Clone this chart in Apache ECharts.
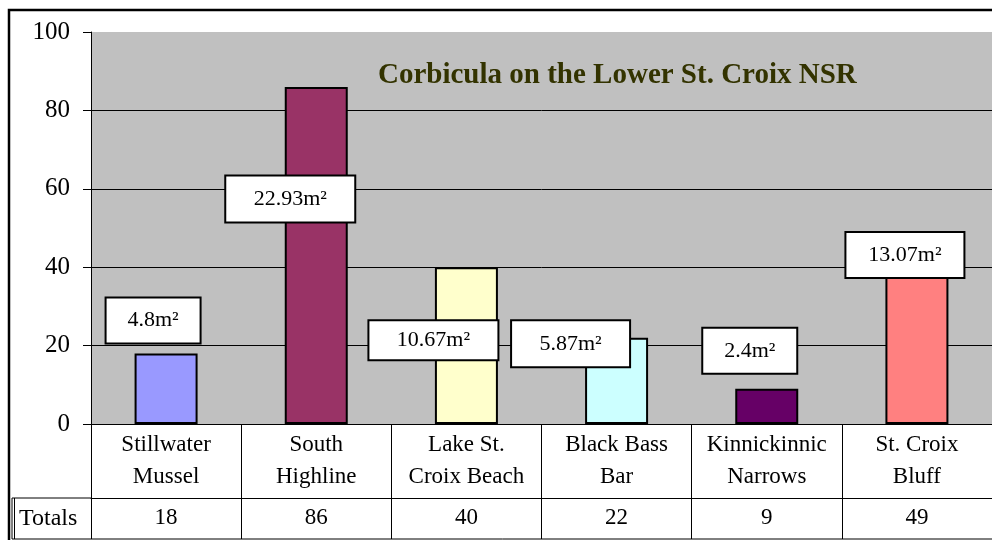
<!DOCTYPE html>
<html>
<head>
<meta charset="utf-8">
<script src="https://cdn.jsdelivr.net/npm/echarts@6/dist/echarts.min.js"></script>
<style>
  html, body { margin: 0; padding: 0; background: #fff; }
  #chart { width: 992px; height: 540px; }
</style>
</head>
<body>
<div id="chart"></div>
<script>
// Data
const sites = ['Stillwater\nMussel', 'South\nHighline', 'Lake St.\nCroix Beach', 'Black Bass\nBar', 'Kinnickinnic\nNarrows', 'St. Croix\nBluff']
const totals = [18, 86, 40, 22, 9, 49]
const areas = ['4.8', '22.93', '10.67', '5.87', '2.4', '13.07']
const barColors = ['#9999FF', '#993366', '#FFFFCC', '#CCFFFF', '#660066', '#FF8080']

// label boxes were dragged around in the original, offsets from bar top
const labelBoxes = [
  { dx: -13, dy: -33, w: 97, h: 48 },
  { dx: -26, dy: 112, w: 132, h: 49 },
  { dx: -33, dy: 73, w: 132, h: 42 },
  { dx: -46, dy: 6, w: 121, h: 49 },
  { dx: -17, dy: -38, w: 97, h: 48 },
  { dx: -12, dy: 23, w: 121, h: 48 },
]

const serif = 'Liberation Serif'
const chart = echarts.init(document.getElementById('chart'))

chart.setOption({
  animation: false,
  title: {
    text: 'Corbicula on the Lower St. Croix NSR',
    left: 378,
    top: 61,
    padding: 0,
    textStyle: { fontFamily: serif, fontWeight: 'bold', fontSize: 29, color: '#333300' },
  },
  grid: {
    show: true,
    backgroundColor: '#C0C0C0',
    borderWidth: 0,
    left: 91,
    top: 32,
    width: 906,
    height: 392,
  },
  xAxis: [{
    type: 'category',
    data: sites,
    position: 'bottom',
    axisLine: { lineStyle: { color: '#000', width: 1 } },
    axisTick: { show: true, length: 115, interval: 0, lineStyle: { color: '#000' } },
    axisLabel: { interval: 0, fontFamily: serif, fontSize: 23, lineHeight: 32, color: '#000', margin: 5 },
  }, {
    // totals row of the data table
    type: 'category',
    data: totals.map(String),
    position: 'bottom',
    offset: 74,
    axisLine: { lineStyle: { color: '#000', width: 1 } },
    axisTick: { show: false },
    axisLabel: { interval: 0, fontFamily: serif, fontSize: 23, color: '#000', margin: 8 },
  }],
  yAxis: {
    type: 'value',
    min: 0,
    max: 100,
    interval: 20,
    axisLine: { show: true, lineStyle: { color: '#000' } },
    axisTick: { show: true, length: 8, lineStyle: { color: '#000' } },
    axisLabel: { fontFamily: serif, fontSize: 25, color: '#000', margin: 21 },
    splitLine: { show: true, showMaxLine: false, lineStyle: { color: '#000', width: 1 } },
  },
  graphic: [
    // chart frame
    { type: 'rect', z: 100, shape: { x: 9, y: 10, width: 1000, height: 560 }, style: { fill: 'none', stroke: '#000', lineWidth: 2.5 } },
    // "Totals" header cell
    { type: 'polyline', z: 100, shape: { points: [[91, 498], [12, 498], [12, 539], [997, 539]] }, style: { fill: 'none', stroke: '#000', lineWidth: 1 } },
    { type: 'line', z: 100, shape: { x1: 14.5, y1: 498, x2: 14.5, y2: 539 }, style: { stroke: '#000', lineWidth: 1 } },
    { type: 'text', z: 100, left: 19, top: 507, style: { text: 'Totals', font: '24px "Liberation Serif"', fill: '#000' } },
  ],
  series: [{
    type: 'bar',
    barWidth: 63,
    data: totals.map((v, i) => ({
      value: v,
      itemStyle: { color: barColors[i] },
      label: {
        offset: [labelBoxes[i].dx, labelBoxes[i].dy],
        width: labelBoxes[i].w - 4,
        height: labelBoxes[i].h - 4,
        lineHeight: labelBoxes[i].h - 4,
      },
    })),
    itemStyle: { borderColor: '#000', borderWidth: 2 },
    label: {
      show: true,
      position: 'top',
      distance: 0,
      align: 'center',
      verticalAlign: 'middle',
      formatter: (p) => areas[p.dataIndex] + 'm\u00B2',
      fontFamily: serif,
      fontSize: 22,
      color: '#000',
      backgroundColor: '#fff',
      borderColor: '#000',
      borderWidth: 2,
      padding: 0,
    },
  }],
})
</script>
</body>
</html>
